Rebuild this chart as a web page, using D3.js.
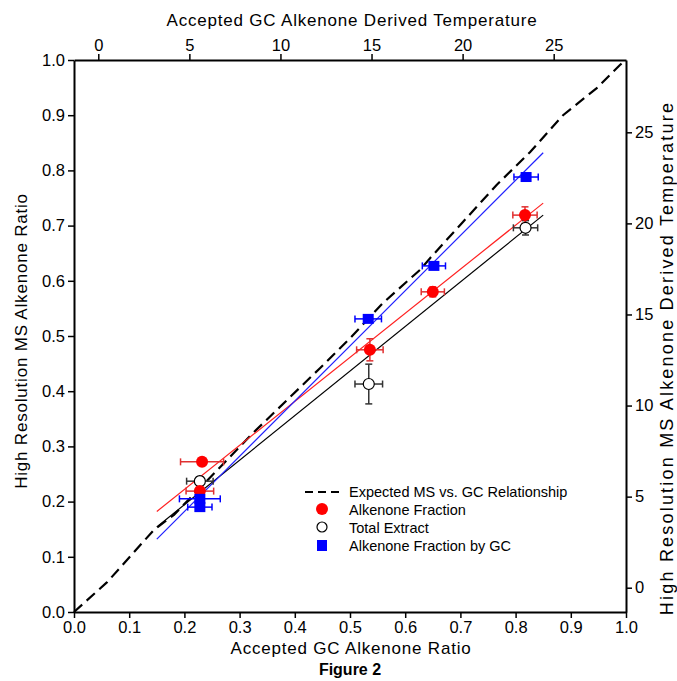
<!DOCTYPE html>
<html><head><meta charset="utf-8">
<script src="https://cdn.jsdelivr.net/npm/d3@7"></script>
<style>body{margin:0;background:#fff}svg{display:block;font-family:"Liberation Sans",Arial,sans-serif}</style>
</head><body><svg id="c" width="677" height="681"></svg>
<script>
// Data
const alkX=[0.232,0.228,0.536,0.650,0.817];
const alkY=[0.272,0.219,0.475,0.580,0.719];
const alkXErr=[0.039,0.025,0.024,0.021,0.022];
const alkYErr=[0,0,0.02,0.009,0.015];
const totX=[0.228,0.534,0.818];
const totY=[0.237,0.413,0.696];
const totXErr=[0.024,0.025,0.022];
const totYErr=[0.008,0.036,0.013];
const gcX=[0.228,0.228,0.533,0.652,0.819];
const gcY=[0.205,0.190,0.531,0.627,0.788];
const gcXErr=[0.037,0.022,0.024,0.021,0.022];
const expX=[0,0.060,0.145,0.181,0.272,0.321,0.391,0.446,0.5,0.560,0.627,0.645,0.705,0.766,0.826,0.886,0.947,0.989,1.0];
const expY=[0,0.054,0.149,0.176,0.270,0.321,0.389,0.442,0.496,0.560,0.620,0.641,0.707,0.774,0.833,0.900,0.949,0.991,1.0];
const fitRange=[0.15,0.85];
const fitAlk=[0.798,0.0624];   // slope, intercept
const fitTot=[0.807,0.0330];
const fitGC=[1.0,-0.018];
const tempCal=[0.033,0.044];   // ratio = a*T + b
const ratioTicks=[0,0.1,0.2,0.3,0.4,0.5,0.6,0.7,0.8,0.9,1.0];
const tempTicks=[0,5,10,15,20,25];

const svg=d3.select("#c");
const L=74,R=626,T=60,B=612;
const x=d3.scaleLinear().domain([0,1]).range([L,R]);
const y=d3.scaleLinear().domain([0,1]).range([B,T]);
const tMin=(0-tempCal[1])/tempCal[0], tMax=(1-tempCal[1])/tempCal[0];
const xt=d3.scaleLinear().domain([tMin,tMax]).range([L,R]);
const yt=d3.scaleLinear().domain([tMin,tMax]).range([B,T]);

const minorR=d3.range(0,1.0001,0.02);
const minorT=d3.range(-1,29,1);
function ax(gen,scale,major,minor,fmt,tx,ty){
  const g=svg.append("g").attr("transform",`translate(${tx},${ty})`);
  g.call(gen(scale).tickValues(minor).tickSize(3).tickFormat(""));
  g.call(gen(scale).tickValues(major).tickSize(6).tickSizeOuter(0).tickPadding(3).tickFormat(fmt));
  g.selectAll("path.domain").attr("stroke","#000").attr("stroke-width",2);
  g.selectAll(".tick line").attr("stroke","#000").attr("stroke-width",1.5);
  g.selectAll("text").attr("font-size",16.5).attr("fill","#000").attr("font-family","Liberation Sans, Arial, sans-serif");
  return g;
}
ax(d3.axisBottom,x,ratioTicks,minorR,d3.format(".1f"),0,B);
ax(d3.axisLeft,y,ratioTicks,minorR,d3.format(".1f"),L,0);
ax(d3.axisTop,xt,tempTicks,minorT,d3.format("d"),0,T);
ax(d3.axisRight,yt,tempTicks,minorT,d3.format("d"),R,0);

// expected dashed line
svg.append("path").datum(d3.range(expX.length))
  .attr("d",d3.line().x(i=>x(expX[i])).y(i=>y(expY[i])))
  .attr("fill","none").attr("stroke","#000").attr("stroke-width",2.2).attr("stroke-dasharray","11,6");

// fits
function fit(f,col){
  svg.append("line").attr("x1",x(fitRange[0])).attr("y1",y(f[0]*fitRange[0]+f[1]))
    .attr("x2",x(fitRange[1])).attr("y2",y(f[0]*fitRange[1]+f[1]))
    .attr("stroke",col).attr("stroke-width",1.2);
}
fit(fitTot,"#000");
fit(fitAlk,"#ff2020");
fit(fitGC,"#2020ff");

// error bars
function ebars(xs,ys,xe,ye,col){
  const g=svg.append("g").attr("stroke",col).attr("stroke-width",1.5);
  xs.forEach((v,i)=>{
    const cx=x(v),cy=y(ys[i]);
    if(xe[i]>0){
      const a=x(v-xe[i]),b=x(v+xe[i]);
      g.append("line").attr("x1",a).attr("x2",b).attr("y1",cy).attr("y2",cy);
      g.append("line").attr("x1",a).attr("x2",a).attr("y1",cy-3.5).attr("y2",cy+3.5);
      g.append("line").attr("x1",b).attr("x2",b).attr("y1",cy-3.5).attr("y2",cy+3.5);
    }
    if(ye&&ye[i]>0){
      const a=y(ys[i]-ye[i]),b=y(ys[i]+ye[i]);
      g.append("line").attr("x1",cx).attr("x2",cx).attr("y1",a).attr("y2",b);
      g.append("line").attr("x1",cx-3.5).attr("x2",cx+3.5).attr("y1",a).attr("y2",a);
      g.append("line").attr("x1",cx-3.5).attr("x2",cx+3.5).attr("y1",b).attr("y2",b);
    }
  });
}
ebars(totX,totY,totXErr,totYErr,"#333");
ebars(alkX,alkY,alkXErr,alkYErr,"#e03030");
ebars(gcX,gcY,gcXErr,null,"#0000ff");

svg.append("g").selectAll("circle").data(totX).join("circle")
  .attr("cx",d=>x(d)).attr("cy",(d,i)=>y(totY[i])).attr("r",5.5)
  .attr("fill","#fff").attr("stroke","#000").attr("stroke-width",1.2);
svg.append("g").selectAll("circle").data(alkX).join("circle")
  .attr("cx",d=>x(d)).attr("cy",(d,i)=>y(alkY[i])).attr("r",6)
  .attr("fill","#ff0000");
svg.append("g").selectAll("rect").data(gcX).join("rect")
  .attr("x",d=>x(d)-5.5).attr("y",(d,i)=>y(gcY[i])-5).attr("width",11).attr("height",10)
  .attr("fill","#0000ff");

// legend
const lg=svg.append("g").attr("font-size",14.5).attr("fill","#000");
lg.append("line").attr("x1",305).attr("x2",340).attr("y1",492).attr("y2",492)
  .attr("stroke","#000").attr("stroke-width",2.2).attr("stroke-dasharray","8,5");
lg.append("circle").attr("cx",322).attr("cy",509).attr("r",6).attr("fill","#ff0000");
lg.append("circle").attr("cx",322).attr("cy",527).attr("r",5).attr("fill","#fff").attr("stroke","#000").attr("stroke-width",1.2);
lg.append("rect").attr("x",317).attr("y",540).attr("width",10).attr("height",11).attr("fill","#0000ff");
const labels=["Expected MS vs. GC Relationship","Alkenone Fraction","Total Extract","Alkenone Fraction by GC"];
labels.forEach((t,i)=>lg.append("text").attr("x",349).attr("y",497+i*18).text(t));

// titles
const ls="0.8px";
svg.append("text").attr("x",351).attr("y",654).attr("text-anchor","middle").attr("font-size",17).attr("letter-spacing",ls).text("Accepted GC Alkenone Ratio");
svg.append("text").attr("x",350).attr("y",675).attr("text-anchor","middle").attr("font-size",16).attr("font-weight","bold").text("Figure 2");
svg.append("text").attr("x",352).attr("y",26).attr("text-anchor","middle").attr("font-size",17).attr("letter-spacing",ls).text("Accepted GC Alkenone Derived Temperature");
svg.append("text").attr("transform","translate(27,341) rotate(-90)").attr("text-anchor","middle").attr("font-size",17).attr("letter-spacing",ls).text("High Resolution MS Alkenone Ratio");
svg.append("text").attr("transform","translate(673,358) rotate(-90)").attr("text-anchor","middle").attr("font-size",18).attr("letter-spacing","2.2px").text("High Resolution MS Alkenone Derived Temperature");
</script></body></html>
